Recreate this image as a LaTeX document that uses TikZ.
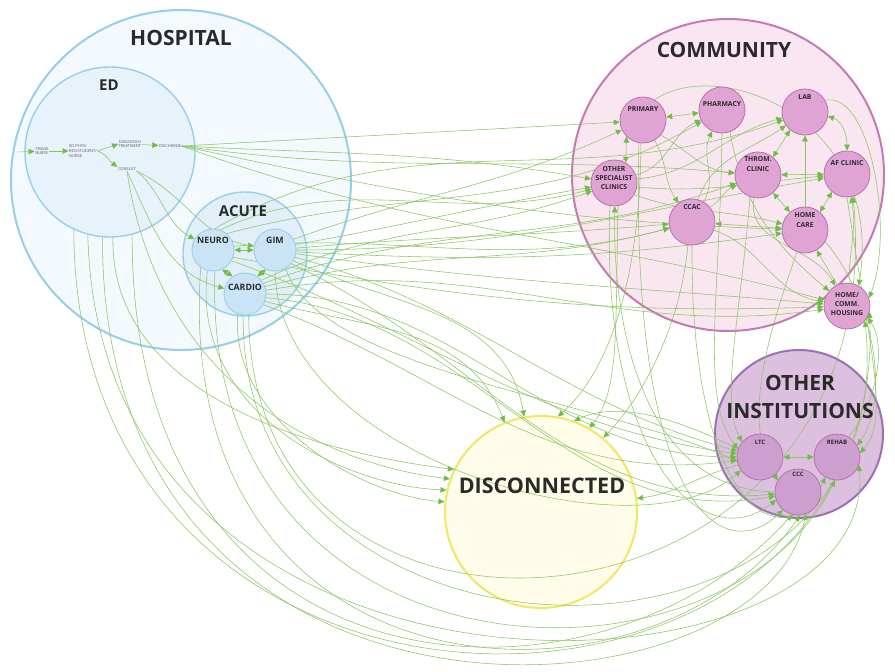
\documentclass[tikz,border=0pt]{standalone}
\usepackage{fontspec}
\setmainfont{Open Sans}
\usetikzlibrary{arrows.meta}
\pgfdeclarelayer{bg}
\pgfdeclarelayer{mid}
\pgfsetlayers{bg,mid,main}
\definecolor{hospline}{HTML}{96CFEA}
\definecolor{hospfill}{HTML}{F3F9FD}
\definecolor{edfill}{HTML}{E7F2FA}
\definecolor{acfill}{HTML}{E2EFF9}
\definecolor{subfill}{HTML}{CBE4F5}
\definecolor{commline}{HTML}{C57AB5}
\definecolor{commfill}{HTML}{F9E6F1}
\definecolor{cnfill}{HTML}{DFA3D4}
\definecolor{cnline}{HTML}{B872A9}
\definecolor{oiline}{HTML}{9A72B4}
\definecolor{oifill}{HTML}{DDBFDF}
\definecolor{oinfill}{HTML}{CC9FCF}
\definecolor{disline}{HTML}{F1E765}
\definecolor{disfill}{HTML}{FFFDE9}
\definecolor{lgreen}{HTML}{8AC660}
\definecolor{agreen}{HTML}{6DBE45}
\definecolor{ink}{HTML}{2A2A2A}
\tikzset{
  flow/.style={draw=lgreen,line width=0.55pt,-{Triangle[length=6pt,width=5.5pt,color=agreen]}},
  flowb/.style={draw=lgreen,line width=0.55pt,{Triangle[length=6pt,width=5.5pt,color=agreen]}-{Triangle[length=6pt,width=5.5pt,color=agreen]}},
  bigc/.style={circle,inner sep=0pt},
  subn/.style={circle,inner sep=0pt,minimum size=42pt,fill=subfill,draw=hospline,line width=0.9pt},
  cnode/.style={circle,inner sep=0pt,minimum size=46pt,fill=cnfill,draw=cnline,line width=0.8pt},
  onode/.style={circle,inner sep=0pt,minimum size=46pt,fill=oinfill,draw=cnline,line width=0.8pt},
  title/.style={text=ink,font=\bfseries\fontsize{21}{28}\selectfont,align=center,inner sep=0pt},
  midtitle/.style={text=ink,font=\bfseries\fontsize{15}{18}\selectfont,inner sep=0pt},
  clab/.style={text=ink,font=\bfseries\fontsize{6.8}{9.4}\selectfont,align=center,inner sep=0pt},
  olab/.style={text=ink,font=\bfseries\fontsize{6}{7}\selectfont,inner sep=0pt},
  slab/.style={text=ink,font=\bfseries\fontsize{8.8}{10}\selectfont,inner sep=0pt},
  edlab/.style={text=black!65,font=\fontsize{4}{4.8}\selectfont,align=left,inner sep=0.5pt},
}
\begin{document}
\begin{tikzpicture}[x=1pt,y=-1pt]
\useasboundingbox (0,0) rectangle (895,672);
\begin{pgfonlayer}{bg}
\fill[white] (0,0) rectangle (895,672);
\node[bigc,minimum size=340pt,fill=hospfill,draw=hospline,line width=2pt] (hosp) at (181,180) {};
\node[bigc,minimum size=170pt,fill=edfill,draw=hospline,line width=1.4pt] (ed) at (110,152) {};
\node[bigc,minimum size=124pt,fill=acfill,draw=hospline,line width=1.4pt] (acute) at (245,254) {};
\node[bigc,minimum size=312pt,fill=commfill,draw=commline,line width=2pt] (comm) at (728,175) {};
\node[bigc,minimum size=168pt,fill=oifill,draw=oiline,line width=2pt] (oinst) at (799,434) {};
\node[bigc,minimum size=192pt,fill=disfill,draw=disline,line width=2pt] (dis) at (541,512) {};
\end{pgfonlayer}

% titles
\node[title] (hospt) at (181,38) {HOSPITAL};
\node[midtitle] (edt) at (109,85) {ED};
\node[midtitle] (acutet) at (243,211) {ACUTE};
\node[title] (commt) at (724,50) {COMMUNITY};
\node[title] (oinstt) at (800,397) {OTHER\\INSTITUTIONS};
\node[title,font=\bfseries\fontsize{21.5}{26}\selectfont] (dist) at (542,486) {DISCONNECTED};

% ED flow
\coordinate (edin) at (18,152);
\node[edlab] (triage) at (42,151) {TRIAGE\\NURSE};
\node[edlab] (edphys) at (83,151) {ED PHYS/\\RES/STUDENT/\\NURSE};
\node[edlab] (diag) at (130,144) {DIAGNOSIS/\\TREATMENT};
\node[edlab] (disch) at (170,146) {DISCHARGE};
\node[edlab] (consult) at (127,169) {CONSULT};

% acute
\node[subn] (neuro) at (213,250) {};
\node[subn] (gim) at (275,250) {};
\node[subn] (cardio) at (245,294) {};
\node[slab] (neurot) at ([yshift=10pt]neuro.center) {NEURO};
\node[slab] (gimt) at ([yshift=10pt]gim.center) {GIM};
\node[slab] (cardiot) at ([yshift=7pt]cardio.center) {CARDIO};

% community
\node[cnode] (prim) at (643,120) {};
\node[cnode] (pharm) at (722,110) {};
\node[cnode] (lab) at (805,112) {};
\node[cnode] (oth) at (614,183) {};
\node[cnode] (throm) at (758,175) {};
\node[cnode] (af) at (847,174) {};
\node[cnode] (ccac) at (692,222) {};
\node[cnode] (home) at (805,230) {};
\node[cnode] (hous) at (847,306) {};
\node[clab] (primt) at ([yshift=11pt]prim.center) {PRIMARY};
\node[clab] (pharmt) at ([yshift=6pt]pharm.center) {PHARMACY};
\node[clab] (labt) at ([yshift=15pt]lab.center) {LAB};
\node[clab] (otht) at ([yshift=5pt]oth.center) {OTHER\\SPECIALIST\\CLINICS};
\node[clab] (thromt) at ([yshift=11pt]throm.center) {THROM.\\CLINIC};
\node[clab] (aft) at ([yshift=11pt]af.center) {AF CLINIC};
\node[clab] (ccact) at ([yshift=15pt]ccac.center) {CCAC};
\node[clab] (homet) at ([yshift=10pt]home.center) {HOME\\CARE};
\node[clab] (houst) at ([yshift=2pt]hous.center) {HOME/\\COMM.\\HOUSING};

% other institutions
\node[onode] (ltc) at (760,457) {};
\node[onode] (rehab) at (837,457) {};
\node[onode] (ccc) at (798,492) {};
\node[olab] (ltct) at ([yshift=15pt]ltc.center) {LTC};
\node[olab] (rehabt) at ([yshift=15pt]rehab.center) {REHAB};
\node[olab] (ccct) at ([yshift=18pt]ccc.center) {CCC};

\begin{pgfonlayer}{mid}
% ED internal
\draw[flow] (edin) -- (triage);
\draw[flow] (triage) -- (edphys);
\draw[flow] (edphys.east) to[out=20,in=200] (diag.west);
\draw[flow] (edphys.east) to[out=-20,in=145] (consult.north west);
\draw[flow] (diag) -- (disch);
% consult to acute
\draw[flow] (consult.south east) to[out=-40,in=150] (neuro);
\draw[flow] (consult.south east) to[out=-25,in=170] (gim);
\draw[flow] (consult.south) to[out=-65,in=165] (cardio);
% acute internal
\draw[flowb] (neuro) -- (gim);
\draw[flowb] (neuro.-65) -- (cardio.125);
\draw[flowb] (gim.-115) -- (cardio.55);
% discharge
\draw[flow] (disch.east) -- (prim.185);
\draw[flow] (disch.east) to[out=-3,in=170] (oth);
\draw[flow] (disch.east) to[out=-8,in=175] (throm);
\draw[flow] (disch.east) to[out=-12,in=178] (home);
\draw[flow] (disch.east) to[out=-20,in=165] (hous);
% GIM
\draw[flow] (gim.30) to[out=20,in=205] (prim);
\draw[flow] (gim.15) to[out=10,in=190] (oth);
\draw[flow] (gim.5) to[out=5,in=185] (ccac);
\draw[flow] (gim.0) to[out=0,in=190] (af);
\draw[flow] (gim.-5) to[out=-3,in=188] (home);
\draw[flow] (gim.-10) to[out=-8,in=175] (hous);
\draw[flow] (gim.-20) to[out=-15,in=165] (ltc);
\draw[flow] (gim.-30) to[out=-25,in=100] (dis);
\draw[flow] (gim.-40) to[out=-25,in=185] (ccc);
% NEURO
\draw[flow] (neuro.70) to[out=25,in=195] (oth);
\draw[flow] (neuro.50) to[out=15,in=210] (pharm);
\draw[flow] (neuro.85) to[out=30,in=200] (lab);
\draw[flow] (neuro.10) to[out=5,in=195] (ccac);
\draw[flow] (neuro.-30) to[out=-20,in=172] (ltc);
\draw[flow] (neuro.-20) to[out=-10,in=182] (hous);
% CARDIO
\draw[flow] (cardio.20) to[out=15,in=195] (ccac);
\draw[flow] (cardio.30) to[out=20,in=200] (throm);
\draw[flow] (cardio.40) to[out=25,in=200] (oth);
\draw[flow] (cardio.10) to[out=10,in=188] (hous);
\draw[flow] (cardio.0) to[out=0,in=180] (ltc);
\draw[flow] (cardio.-30) to[out=-20,in=188] (ltc);
\draw[flow] (cardio.-10) to[out=-5,in=190] (ccc);
\draw[flow] (cardio.-20) to[out=-15,in=112] (dis);
% downward curves from ED and acute
\draw[flow] (ed.245) .. controls (75,790) and (890,770) .. (hous.-15);
\draw[flow] (ed.255) .. controls (100,750) and (880,710) .. (rehab.-20);
\draw[flow] (ed.265) .. controls (100,770) and (760,730) .. (ccc.290);
\draw[flow] (ed.272) .. controls (110,390) and (300,450) .. (dis.154);
\draw[flow] (ed.285) .. controls (130,710) and (600,730) .. (ccc.255);
\draw[flow] (consult.south) .. controls (160,390) and (330,465) .. (dis.160);
\draw[flow] (neuro.235) .. controls (170,710) and (650,730) .. (ccc.275);
\draw[flow] (neuro.255) .. controls (190,410) and (340,485) .. (dis.167);
\draw[flow] (neuro.275) .. controls (200,690) and (720,710) .. (rehab.265);
\draw[flow] (cardio.250) .. controls (230,420) and (360,495) .. (dis.174);
\draw[flow] (cardio.265) .. controls (240,700) and (905,700) .. (hous.-40);
\draw[flow] (cardio.280) .. controls (250,710) and (895,650) .. (af.-75);
\draw[flow] (gim.270) .. controls (280,460) and (640,560) .. (ltc.215);
\draw[flow] (gim.-60) .. controls (320,370) and (600,400) .. (ltc.190);
% community internal
\draw[flowb] (prim) -- (pharm);
\draw[flowb] (prim.225) -- (oth.60);
\draw[flow] (prim.-40) to[out=-30,in=175] (throm);
\draw[flowb] (lab.-10) to[out=-20,in=90] (af.90);
\draw[flowb] (lab.230) -- (throm.50);
\draw[flowb] (throm) -- (af);
\draw[flowb] (throm.-50) -- (home.130);
\draw[flow] (home.90) -- (lab.270);
\draw[flowb] (home.50) -- (af.230);
\draw[flowb] (ccac) -- (home);
\draw[flow] (hous.115) -- (home.-60);
\draw[flow] (hous.85) to[out=90,in=-80] (af.-80);
\draw[flow] (oth.20) to[out=15,in=205] (pharm);
\draw[flow] (oth.10) to[out=5,in=195] (lab);
\draw[flow] (oth.-10) to[out=-5,in=185] (af);
\draw[flow] (oth.-30) to[out=-20,in=165] (home);
\draw[flow] (ccac.60) to[out=60,in=245] (pharm);
\draw[flow] (ccac.75) to[out=70,in=215] (lab);
\draw[flow] (ccac.40) to[out=30,in=205] (throm);
\draw[flow] (ccac.-20) to[out=-20,in=170] (hous);
\draw[flow] (prim.-60) to[out=-60,in=125] (ccac);
\draw[flow] (prim.60) .. controls (720,55) and (885,120) .. (hous.60);
\draw[flow] (lab.30) .. controls (870,90) and (895,230) .. (hous.20);
\draw[flow] (throm.-100) to[out=-100,in=120] (hous);
\draw[flow] (pharm.-70) to[out=-80,in=140] (hous);
% community to disconnected and other institutions
\draw[flow] (oth.-80) .. controls (615,330) and (620,390) .. (dis.60);
\draw[flow] (prim.-95) .. controls (640,300) and (600,380) .. (dis.80);
\draw[flow] (ccac.-100) .. controls (680,330) and (640,400) .. (dis.50);
\draw[flow] (ltc.160) .. controls (680,420) and (620,400) .. (dis.70);
\draw[flow] (ltc.200) to[out=195,in=8] (dis.8);
\draw[flow] (ccc.180) .. controls (650,490) and (612,340) .. (oth.-88);
\draw[flow] (pharm.-90) .. controls (720,300) and (700,400) .. (ltc.160);
\draw[flow] (throm.-110) .. controls (740,320) and (720,400) .. (ltc.140);
\draw[flow] (home.-110) .. controls (770,330) and (740,420) .. (ccc.150);
\draw[flow] (oth.-100) .. controls (600,450) and (700,560) .. (ccc.200);
\draw[flow] (prim.-100) .. controls (630,500) and (720,570) .. (ccc.230);
\draw[flow] (ccac.-90) .. controls (690,520) and (790,560) .. (rehab.240);
\draw[flow] (af.-90) .. controls (870,350) and (890,420) .. (rehab.10);
\draw[flow] (home.-30) .. controls (875,300) and (890,400) .. (rehab.30);
\draw[flow] (rehab.60) .. controls (880,400) and (885,340) .. (hous.-30);
\draw[flowb] (ltc) -- (rehab);
\end{pgfonlayer}
\end{tikzpicture}
\end{document}
